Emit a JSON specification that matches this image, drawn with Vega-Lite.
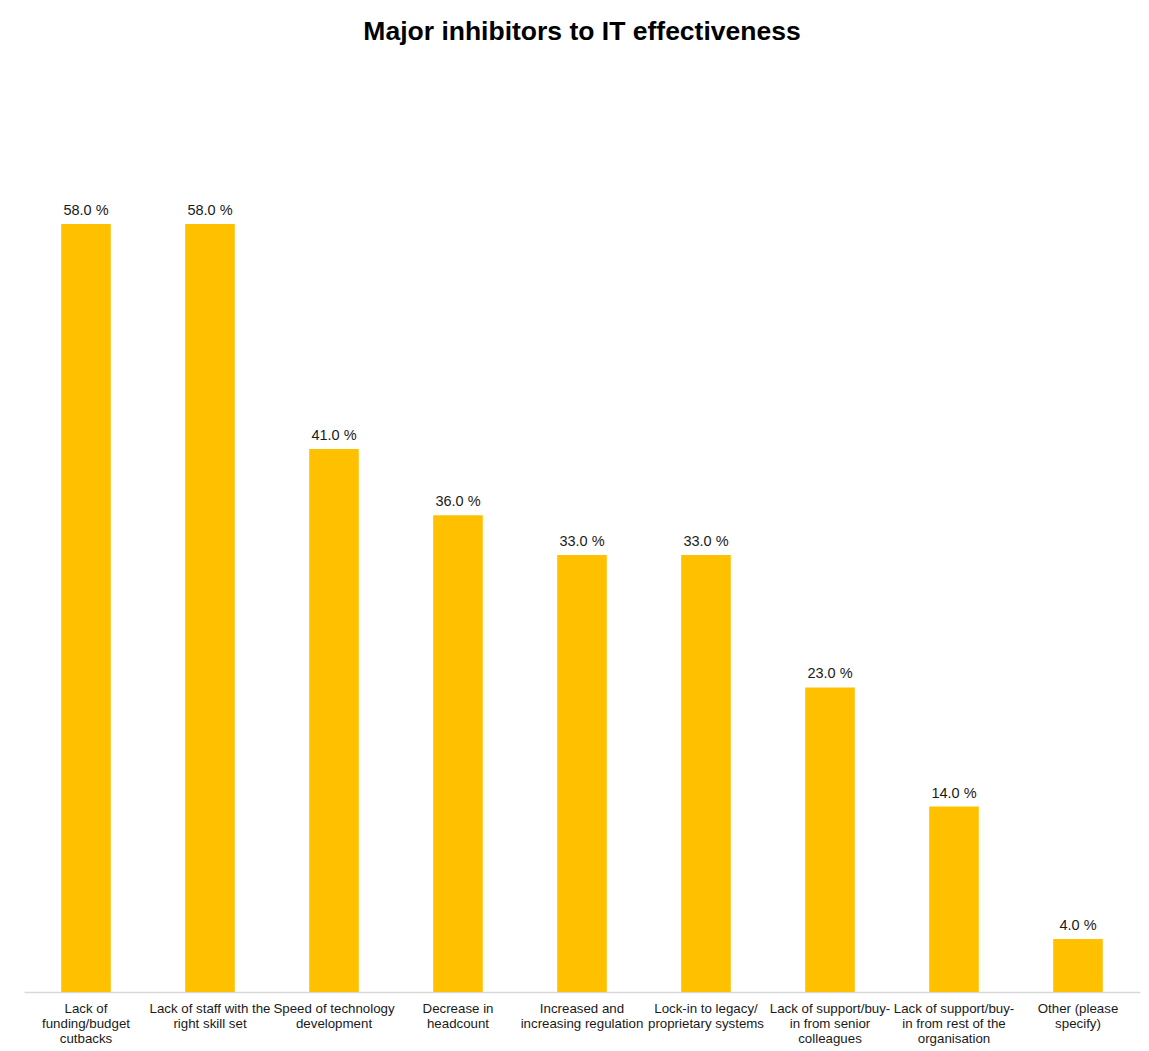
{
  "$schema": "https://vega.github.io/schema/vega-lite/v6.json",
  "width": 1116,
  "height": 927,
  "autosize": {"type": "none"},
  "padding": {"left": 24, "top": 65, "right": 9, "bottom": 59},
  "background": "white",
  "config": {
    "view": {"stroke": null},
    "font": "Liberation Sans"
  },
  "title": {
    "text": "Major inhibitors to IT effectiveness",
    "fontSize": 26.5,
    "fontWeight": "bold",
    "font": "Liberation Sans",
    "color": "#000000",
    "anchor": "middle",
    "offset": 20
  },
  "data": {
    "values": [
      {"category": "Lack of|funding/budget|cutbacks", "value": 58},
      {"category": "Lack of staff with the|right skill set", "value": 58},
      {"category": "Speed of technology|development", "value": 41},
      {"category": "Decrease in|headcount", "value": 36},
      {"category": "Increased and|increasing regulation", "value": 33},
      {"category": "Lock-in to legacy/|proprietary systems", "value": 33},
      {"category": "Lack of support/buy-|in from senior|colleagues", "value": 23},
      {"category": "Lack of support/buy-|in from rest of the|organisation", "value": 14},
      {"category": "Other (please|specify)", "value": 4}
    ]
  },
  "transform": [
    {"calculate": "format(datum.value, '.1f') + ' %'", "as": "label"}
  ],
  "encoding": {
    "x": {
      "field": "category",
      "type": "nominal",
      "sort": null,
      "scale": {"paddingInner": 0.6, "paddingOuter": 0.3},
      "axis": {
        "title": null,
        "labelAngle": 0,
        "labelExpr": "split(datum.value, '|')",
        "labelFontSize": 13.3,
        "labelColor": "#1a1a1a",
        "labelLimit": 300,
        "labelPadding": 9,
        "labelLineHeight": 15,
        "ticks": false,
        "domainColor": "#D9D9D9",
        "domainWidth": 1.5
      }
    },
    "y": {
      "field": "value",
      "type": "quantitative",
      "scale": {"domain": [0, 70]},
      "axis": null
    }
  },
  "layer": [
    {"mark": {"type": "bar", "color": "#FFC000"}},
    {
      "mark": {"type": "text", "baseline": "bottom", "dy": -6, "fontSize": 14.5, "color": "#1a1a1a"},
      "encoding": {"text": {"field": "label"}}
    }
  ]
}
